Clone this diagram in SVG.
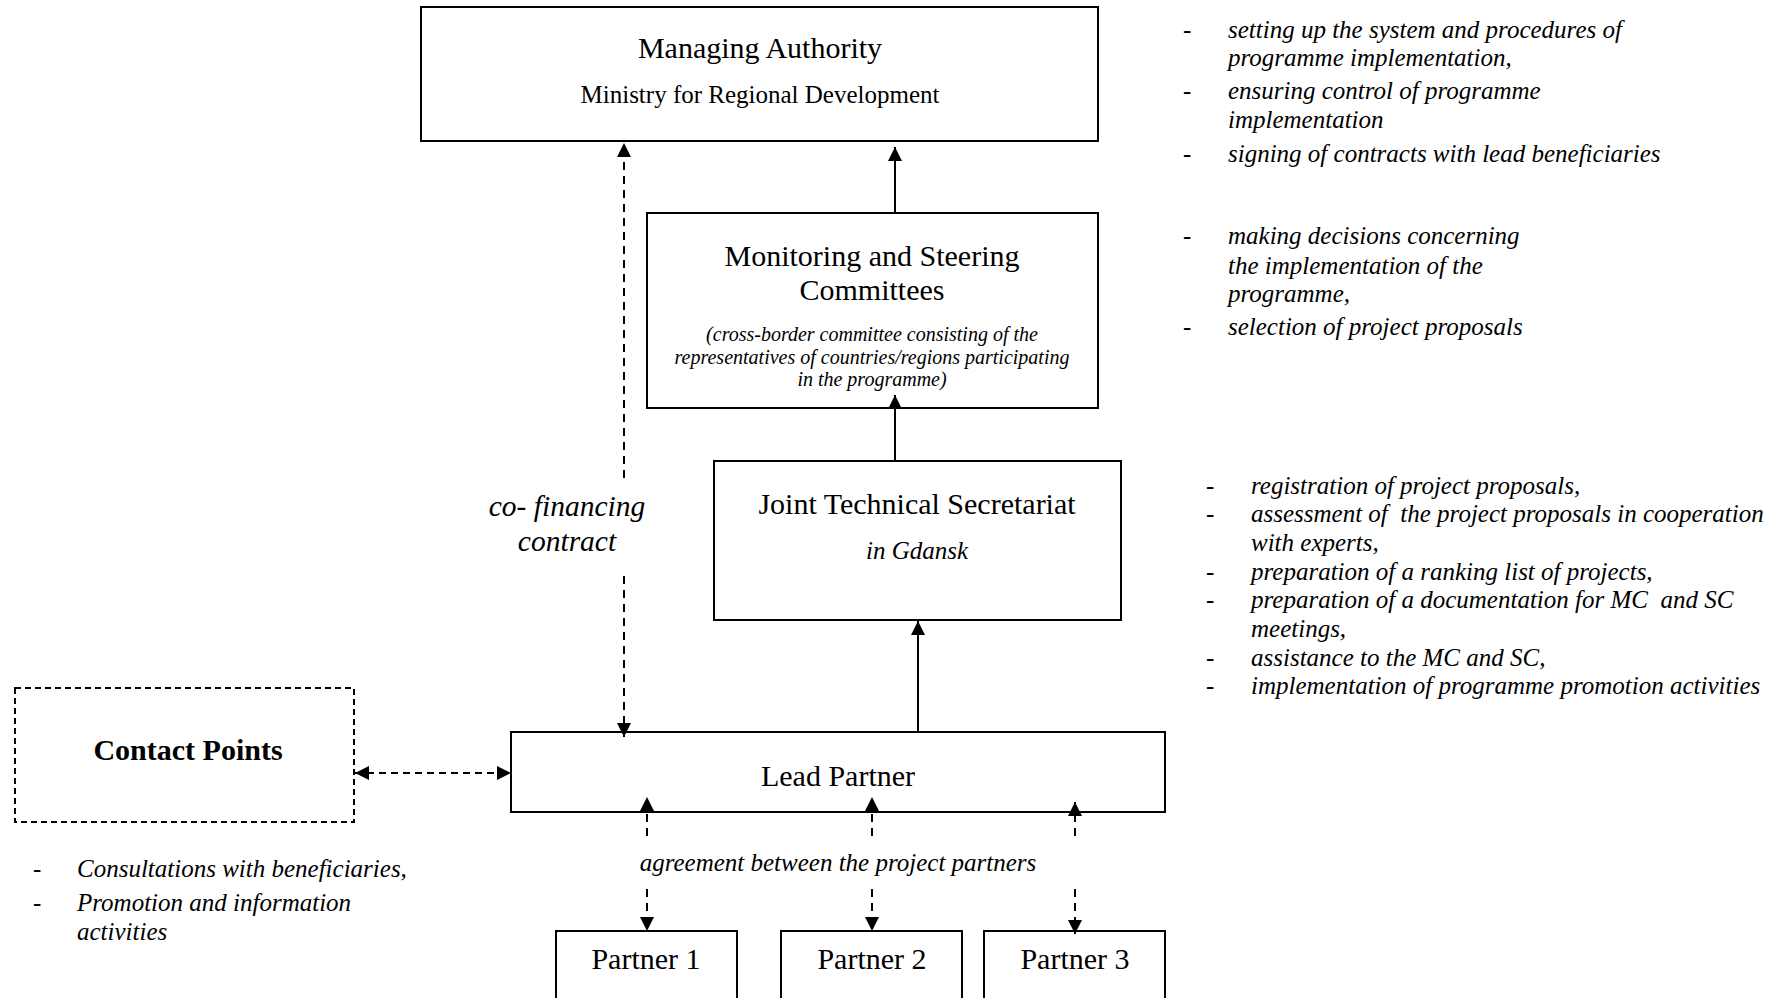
<svg xmlns="http://www.w3.org/2000/svg" width="1786" height="998" viewBox="0 0 1786 998">
<defs>
<style>
.box{fill:#fff;stroke:#000;stroke-width:2}
.dbox{fill:#fff;stroke:#000;stroke-width:2;stroke-dasharray:6 4}
.t{font-family:"Liberation Serif","Times New Roman",serif;fill:#000}
.title{font-size:30px;text-anchor:middle}
.sub{font-size:25px;text-anchor:middle}
.it{font-style:italic}
.bul{font-size:25px;font-style:italic}
.ln{stroke:#000;stroke-width:2;fill:none}
.dl{stroke:#000;stroke-width:2;fill:none;stroke-dasharray:8 6}
.dl2{stroke:#000;stroke-width:2;fill:none;stroke-dasharray:7 5}
</style>
<marker id="ah" viewBox="0 0 10 10" refX="10" refY="5" markerWidth="14" markerHeight="14" orient="auto-start-reverse" markerUnits="userSpaceOnUse" preserveAspectRatio="none">
<path d="M0,0 L10,5 L0,10 z" fill="#000"/>
</marker>
</defs>

<g id="managing-authority">
<rect class="box" x="421" y="7" width="677" height="134"/>
<text class="t title" x="760" y="58">Managing Authority</text>
<text class="t sub" x="760" y="103">Ministry for Regional Development</text>
</g>

<g id="monitoring">
<rect class="box" x="647" y="213" width="451" height="195"/>
<text class="t title" x="872" y="266">Monitoring and Steering</text>
<text class="t title" x="872" y="300">Committees</text>
<text class="t it" x="872" y="341" font-size="20" text-anchor="middle">(cross-border committee consisting of the</text>
<text class="t it" x="872" y="364" font-size="20" text-anchor="middle">representatives of countries/regions participating</text>
<text class="t it" x="872" y="386" font-size="20" text-anchor="middle">in the programme)</text>
</g>

<g id="jts">
<rect class="box" x="714" y="461" width="407" height="159"/>
<text class="t title" x="917" y="514">Joint Technical Secretariat</text>
<text class="t it" x="917" y="559" font-size="25" text-anchor="middle">in Gdansk</text>
</g>

<g id="lead-partner">
<rect class="box" x="511" y="732" width="654" height="80"/>
<text class="t title" x="838" y="786">Lead Partner</text>
</g>

<g id="contact-points">
<rect class="dbox" x="15" y="688" width="339" height="134"/>
<text class="t" x="188" y="760" font-size="30" font-weight="bold" text-anchor="middle">Contact Points</text>
</g>

<g id="partner-1">
<rect class="box" x="556" y="931" width="181" height="80"/>
<text class="t title" x="646" y="969">Partner 1</text>
</g>
<g id="partner-2">
<rect class="box" x="781" y="931" width="181" height="80"/>
<text class="t title" x="872" y="969">Partner 2</text>
</g>
<g id="partner-3">
<rect class="box" x="984" y="931" width="181" height="80"/>
<text class="t title" x="1075" y="969">Partner 3</text>
</g>

<g id="connectors">
<line class="ln" x1="895" y1="213" x2="895" y2="147" marker-end="url(#ah)"/>
<line class="ln" x1="895" y1="461" x2="895" y2="395" marker-end="url(#ah)"/>
<line class="ln" x1="918" y1="732" x2="918" y2="621" marker-end="url(#ah)"/>
<line class="dl" x1="624" y1="478" x2="624" y2="143" marker-end="url(#ah)"/>
<line class="dl" x1="624" y1="576" x2="624" y2="737" marker-end="url(#ah)"/>
<line class="dl2" x1="355" y1="773" x2="511" y2="773" marker-start="url(#ah)" marker-end="url(#ah)"/>
<line class="dl" x1="647" y1="836" x2="647" y2="797" marker-end="url(#ah)"/>
<line class="dl" x1="647" y1="889" x2="647" y2="931" marker-end="url(#ah)"/>
<line class="dl" x1="872" y1="836" x2="872" y2="797" marker-end="url(#ah)"/>
<line class="dl" x1="872" y1="889" x2="872" y2="931" marker-end="url(#ah)"/>
<line class="dl" x1="1075" y1="836" x2="1075" y2="802" marker-end="url(#ah)"/>
<line class="dl" x1="1075" y1="889" x2="1075" y2="934" marker-end="url(#ah)"/>
<text class="t it" x="567" y="516" font-size="29.5" text-anchor="middle">co- financing</text>
<text class="t it" x="567" y="551" font-size="29.5" text-anchor="middle">contract</text>
<text class="t it" x="838" y="871" font-size="25" text-anchor="middle">agreement between the project partners</text>
</g>

<g id="ma-tasks" class="t bul">
<text x="1183" y="38">-</text><text x="1228" y="38">setting up the system and procedures of</text>
<text x="1228" y="66">programme implementation,</text>
<text x="1183" y="99">-</text><text x="1228" y="99">ensuring control of programme</text>
<text x="1228" y="128">implementation</text>
<text x="1183" y="162">-</text><text x="1228" y="162">signing of contracts with lead beneficiaries</text>
</g>

<g id="mc-tasks" class="t bul">
<text x="1183" y="244">-</text><text x="1228" y="244">making decisions concerning</text>
<text x="1228" y="274">the implementation of the</text>
<text x="1228" y="302">programme,</text>
<text x="1183" y="335">-</text><text x="1228" y="335">selection of project proposals</text>
</g>

<g id="jts-tasks" class="t bul">
<text x="1206" y="494">-</text><text x="1251" y="494">registration of project proposals,</text>
<text x="1206" y="522">-</text><text x="1251" y="522" xml:space="preserve">assessment of  the project proposals in cooperation</text>
<text x="1251" y="551">with experts,</text>
<text x="1206" y="580">-</text><text x="1251" y="580">preparation of a ranking list of projects,</text>
<text x="1206" y="608">-</text><text x="1251" y="608" xml:space="preserve">preparation of a documentation for MC  and SC</text>
<text x="1251" y="637">meetings,</text>
<text x="1206" y="666">-</text><text x="1251" y="666">assistance to the MC and SC,</text>
<text x="1206" y="694">-</text><text x="1251" y="694">implementation of programme promotion activities</text>
</g>

<g id="cp-tasks" class="t bul">
<text x="33" y="877">-</text><text x="77" y="877">Consultations with beneficiaries,</text>
<text x="33" y="911">-</text><text x="77" y="911">Promotion and information</text>
<text x="77" y="940">activities</text>
</g>
</svg>
